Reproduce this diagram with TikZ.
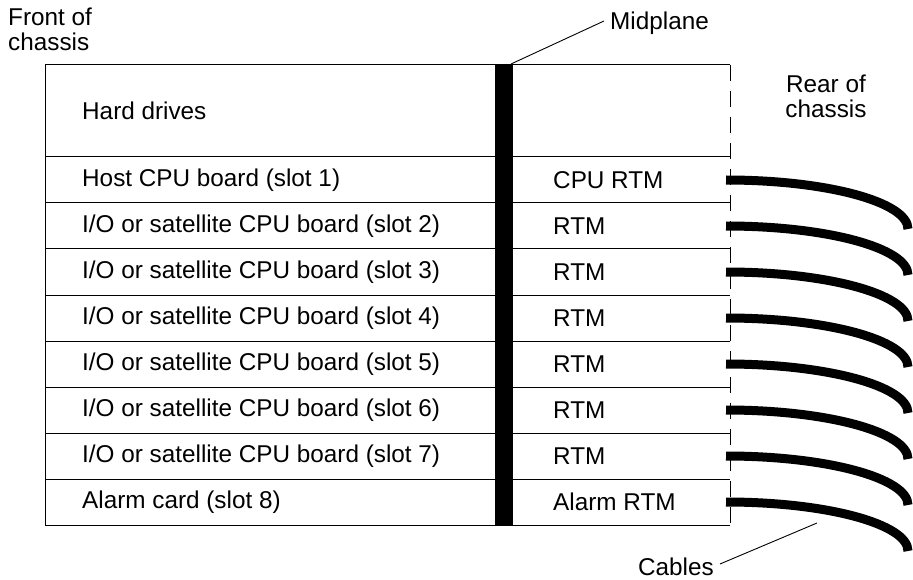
\documentclass[tikz,border=0pt]{standalone}
\usepackage{fontspec}
\setmainfont{Liberation Sans}
\begin{document}
\begin{tikzpicture}[x=1pt,y=-1pt,
  every node/.style={font=\fontsize{24.3}{24.5}\selectfont, inner sep=0pt},
  frame/.style={line width=1pt},
  cable/.style={line width=9pt, line cap=butt},
  leader/.style={line width=0.9pt},
  rowtext/.style={anchor=west}]
\useasboundingbox (0,0) rectangle (913,580);

% chassis outline: front edge, top, bottom and slot separators
\draw[frame] (730,65) -- (45,65) -- (45,525) -- (730,525);
\foreach \k in {0,...,7}
  \draw[frame] (45,157+46*\k) -- (730,157+46*\k);
% open rear edge
\draw[frame, dash pattern=on 16pt off 10pt] (730,65) -- (730,525);

% midplane
\fill (495,65) rectangle (513,525);
\coordinate (midtop) at (511,64);

% row labels
\node[rowtext] (hd) at (82,111) {Hard drives};
\node[rowtext] (f1) at (82,180) {Host CPU board (slot 1)};
\foreach \s in {2,...,7}
  \node[rowtext] (f\s) at (82,180+46*\s-46) {I/O or satellite CPU board (slot \s)};
\node[rowtext] (f8) at (82,502) {Alarm card (slot 8)};

\node[rowtext] (r1) at (553,180) {CPU RTM};
\foreach \s in {2,...,7}
  \node[rowtext] (r\s) at (553,180+46*\s-46) {RTM};
\node[rowtext] (r8) at (553,502) {Alarm RTM};

% cables leaving each rear transition module
\foreach \s in {1,...,8} {
  \coordinate (c\s) at (726,180+46*\s-46);
  \draw[cable] (c\s) arc[start angle=90, end angle=0, x radius=182pt, y radius=49pt];
}

% callouts
\node[anchor=north west, align=left] (front) at (8,8) {Front of\\chassis};
\node[anchor=north, align=center] (rear) at (826,75) {Rear of\\chassis};
\node[anchor=west] (mid) at (610,23) {Midplane};
\draw[leader] (midtop) -- ([xshift=-6pt,yshift=2pt]mid.west);
\node[anchor=east] (cab) at (714,567) {Cables};
\coordinate (cabpt) at (817,523);
\draw[leader] ([xshift=6pt,yshift=3pt]cab.east) -- (cabpt);
\end{tikzpicture}
\end{document}
